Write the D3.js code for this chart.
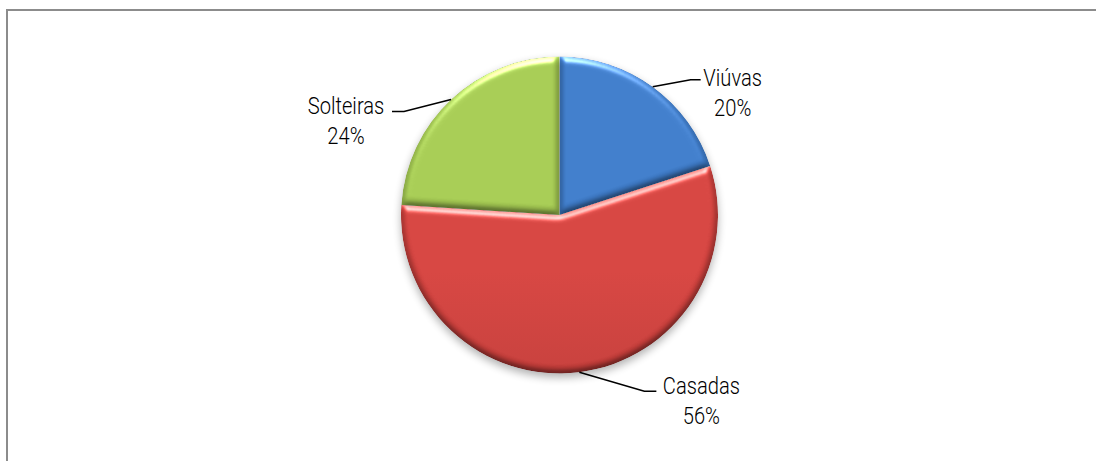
<!DOCTYPE html>
<html>
<head>
<meta charset="utf-8">
<script src="https://cdn.jsdelivr.net/npm/d3@7/dist/d3.min.js"></script>
<style>
  html, body { margin: 0; padding: 0; background: #fff; }
  svg { display: block; }
  text { font-family: Roboto, "Liberation Sans", sans-serif; font-weight: 300; fill: #000; }
</style>
</head>
<body>
<svg id="chart" width="1096" height="461"></svg>
<script>
// Marital status shares (%)
const categories = ["Viúvas", "Casadas", "Solteiras"];
const values = [20, 56, 24];
const percentLabels = ["20%", "56%", "24%"];

// Slice colours: light (top) and dark (bottom) stops
const colorsLight = ["#3e7bc8", "#d3433f", "#a4c952"];
const colorsDark = ["#31609f", "#a4312f", "#7d9a3e"];

// Label elbow offsets (from the leader start on the rim) and text centres
const labelLayout = [
  { elbow: [38, -7], end: [48, -7], text: [80, -4] },
  { elbow: [65, 19], end: [77, 19], text: [122, 19] },
  { elbow: [-47, 12], end: [-59, 12], text: [-105, 12] }
];

const W = 1096, H = 461;
const cx = 559.5, cy = 215, R = 158.5;

const svg = d3.select("#chart");
const defs = svg.append("defs");

// Frame
svg.append("rect")
  .attr("x", 7).attr("y", 10)
  .attr("width", W + 10).attr("height", H + 10)
  .attr("fill", "none").attr("stroke", "#8c8c8c").attr("stroke-width", 2);

// Soft drop shadow beneath the pie
const sh = defs.append("filter").attr("id", "shadow")
  .attr("x", "-20%").attr("y", "-20%").attr("width", "140%").attr("height", "140%");
sh.append("feGaussianBlur").attr("stdDeviation", 4);

// Bevel lighting for the slices
const elev = 70;
const bev = defs.append("filter").attr("id", "bevel")
  .attr("color-interpolation-filters", "sRGB")
  .attr("x", "-5%").attr("y", "-5%").attr("width", "110%").attr("height", "110%");
bev.append("feGaussianBlur").attr("in", "SourceAlpha").attr("stdDeviation", 3.5).attr("result", "blur");
const diff = bev.append("feDiffuseLighting").attr("in", "blur")
  .attr("surfaceScale", 3.5).attr("diffuseConstant", 1 / Math.sin(elev * Math.PI / 180))
  .attr("lighting-color", "#fff").attr("result", "diff");
diff.append("feDistantLight").attr("azimuth", 265).attr("elevation", elev);
bev.append("feComposite").attr("in", "SourceGraphic").attr("in2", "diff")
  .attr("operator", "arithmetic").attr("k1", 1).attr("k2", 0).attr("k3", 0).attr("k4", 0).attr("result", "shaded");
const spec = bev.append("feSpecularLighting").attr("in", "blur")
  .attr("surfaceScale", 3.5).attr("specularConstant", 0.6).attr("specularExponent", 28)
  .attr("lighting-color", "#fff").attr("result", "spec");
spec.append("feDistantLight").attr("azimuth", 265).attr("elevation", 35);
bev.append("feComposite").attr("in", "spec").attr("in2", "SourceAlpha").attr("operator", "in").attr("result", "specIn");
bev.append("feComposite").attr("in", "shaded").attr("in2", "specIn")
  .attr("operator", "arithmetic").attr("k1", 0).attr("k2", 1).attr("k3", 1).attr("k4", 0).attr("result", "lit");
bev.append("feComposite").attr("in", "lit").attr("in2", "SourceAlpha").attr("operator", "in");

// Vertical gradients per slice
categories.forEach((c, i) => {
  const g = defs.append("linearGradient").attr("id", "grad" + i)
    .attr("gradientUnits", "userSpaceOnUse")
    .attr("x1", 0).attr("y1", cy - R).attr("x2", 0).attr("y2", cy + R);
  g.append("stop").attr("offset", "0%").attr("stop-color", colorsLight[i]);
  g.append("stop").attr("offset", "100%").attr("stop-color", colorsDark[i]);
});

const pie = d3.pie().sort(null).value(d => d)(values);
const arc = d3.arc().innerRadius(0).outerRadius(R);

const g = svg.append("g").attr("transform", `translate(${cx},${cy})`);

g.append("circle")
  .attr("cx", 0).attr("cy", 4).attr("r", R)
  .attr("fill", "#000").attr("opacity", 0.3)
  .attr("filter", "url(#shadow)");

g.selectAll("path.slice")
  .data(pie)
  .join("path")
  .attr("class", "slice")
  .attr("d", arc)
  .attr("fill", (d, i) => `url(#grad${i})`)
  .attr("filter", "url(#bevel)");

// Leader lines and labels
const rimPoint = d => {
  const a = (d.startAngle + d.endAngle) / 2;
  return [R * Math.sin(a), -R * Math.cos(a)];
};

pie.forEach((d, i) => {
  const p = rimPoint(d);
  const L = labelLayout[i];
  g.append("polyline")
    .attr("points", [p, [p[0] + L.elbow[0], p[1] + L.elbow[1]], [p[0] + L.end[0], p[1] + L.end[1]]]
      .map(q => q.join(",")).join(" "))
    .attr("fill", "none").attr("stroke", "#000").attr("stroke-width", 1.6);
  const lg = g.append("g")
    .attr("transform", `translate(${p[0] + L.text[0]},${p[1] + L.text[1]}) scale(0.84,1)`);
  const t = lg.append("text")
    .attr("text-anchor", "middle")
    .attr("font-size", 24);
  t.append("tspan").attr("x", 0).attr("y", 3).text(categories[i]);
  t.append("tspan").attr("x", 0).attr("y", 33).text(percentLabels[i]);
});
</script>
</body>
</html>
